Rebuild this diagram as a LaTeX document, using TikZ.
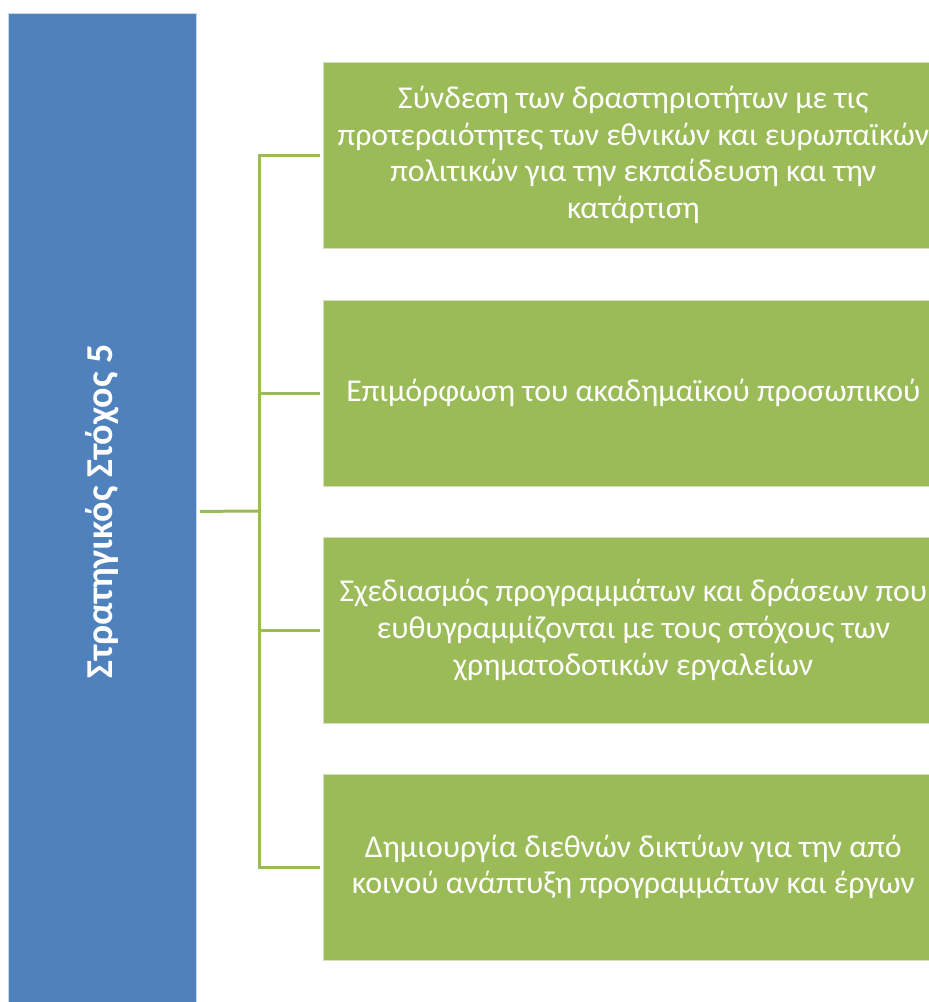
\documentclass[tikz,border=0pt]{standalone}
\usepackage{fontspec}
\setmainfont{Carlito}
\definecolor{goalblue}{HTML}{4F81BD}
\definecolor{taskgreen}{HTML}{9BBB59}
\definecolor{goalrim}{HTML}{C9D7EA}
\definecolor{taskrim}{HTML}{D3E2BC}
\tikzset{
  goalbox/.style={rectangle, fill=goalblue, draw=goalrim, line width=0.8pt, inner sep=0pt},
  taskbox/.style={rectangle, fill=taskgreen, draw=taskrim, line width=0.8pt, minimum width=620pt, minimum height=186pt, inner sep=0pt, anchor=west, align=center, text=white, font=\fontsize{31.8}{36.7}\selectfont},
  conn/.style={draw=taskgreen, line width=3pt},
}
\begin{document}
\begin{tikzpicture}[x=1pt,y=-1pt]
\useasboundingbox (0,0) rectangle (929,1002);
\clip (0,0) rectangle (929,1002);
\node[goalbox, minimum width=188pt, minimum height=996pt, anchor=north west] (goal) at (8,13) {};
\node[rotate=90, text=white, font=\bfseries\fontsize{38}{40}\selectfont] (goallabel) at (goal.center) {Στρατηγικός Στόχος 5};
\node[taskbox] (t1) at (323,155) {Σύνδεση των δραστηριοτήτων με τις\\ προτεραιότητες των εθνικών και ευρωπαϊκών\\ πολιτικών για την εκπαίδευση και την\\ κατάρτιση};
\node[taskbox] (t2) at (323,393) {Επιμόρφωση του ακαδημαϊκού προσωπικού};
\node[taskbox] (t3) at (323,630) {Σχεδιασμός προγραμμάτων και δράσεων που\\ ευθυγραμμίζονται με τους στόχους των\\ χρηματοδοτικών εργαλείων};
\node[taskbox] (t4) at (323,867) {Δημιουργία διεθνών δικτύων για την από\\ κοινού ανάπτυξη προγραμμάτων και έργων};
\coordinate (hub) at (259,511);
\draw[conn] ([xshift=3pt]goal.east) -- (hub);
\draw[conn] (hub) |- ([xshift=-3pt]t1.west);
\draw[conn] (hub) |- ([xshift=-3pt]t2.west);
\draw[conn] (hub) |- ([xshift=-3pt]t3.west);
\draw[conn] (hub) |- ([xshift=-3pt]t4.west);
\end{tikzpicture}
\end{document}
